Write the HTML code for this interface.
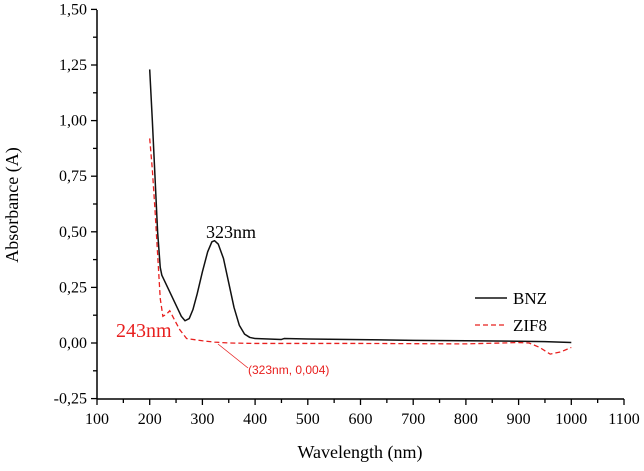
<!DOCTYPE html>
<html><head><meta charset="utf-8"><style>
body{margin:0;background:#fff}
</style></head><body>
<svg id="c" width="644" height="466"></svg>
<script>
const xTicks=[100,200,300,400,500,600,700,800,900,1000,1100];
const yTicks=[-0.25,0,0.25,0.5,0.75,1.0,1.25,1.5];
const yLabels=["-0,25","0,00","0,25","0,50","0,75","1,00","1,25","1,50"];
const bnzX=[200,205,210,215,220,223,230,240,250,260,267,275,282,290,300,310,318,323,330,340,350,360,370,380,390,400,450,455,500,600,700,800,900,950,1000];
const bnzY=[1.23,1.0,0.75,0.5,0.34,0.305,0.27,0.22,0.17,0.12,0.10,0.11,0.15,0.22,0.32,0.41,0.455,0.46,0.445,0.38,0.27,0.16,0.08,0.04,0.025,0.02,0.016,0.02,0.018,0.015,0.012,0.01,0.008,0.006,0.002];
const zifX=[200,205,210,215,220,225,232,238,248,257,270,300,323,350,400,500,600,700,800,900,920,940,960,980,1000];
const zifY=[0.92,0.78,0.6,0.4,0.2,0.12,0.13,0.145,0.1,0.06,0.02,0.01,0.004,0.0,-0.002,-0.002,-0.002,-0.003,-0.004,0.002,0.0,-0.02,-0.05,-0.04,-0.02];
const X=v=>97+(v-100)*0.527, Y=v=>343-v*222.4;
const s=document.getElementById('c'),NS='http://www.w3.org/2000/svg';
function el(t,a,txt){const e=document.createElementNS(NS,t);for(const k in a)e.setAttribute(k,a[k]);if(txt!=null)e.textContent=txt;s.appendChild(e);return e;}
const SERIF='font-family:"Liberation Serif",serif';
let e;
e=el('line',{x1:97,y1:399,x2:624,y2:399,stroke:'#000','stroke-width':1.5});


e=el('line',{x1:97,y1:10,x2:97,y2:399,stroke:'#000','stroke-width':1.5});


xTicks.forEach((v,i)=>{
 el('line',{x1:X(v),y1:399,x2:X(v),y2:405,stroke:'#000','stroke-width':1.3});
 if(i<xTicks.length-1)el('line',{x1:X(v+50),y1:399,x2:X(v+50),y2:403,stroke:'#000','stroke-width':1.3});
 e=el('text',{x:X(v),y:424,'text-anchor':'middle',style:SERIF+';font-size:16px'},String(v));
 
 
});
yTicks.forEach((v,i)=>{
 el('line',{x1:91,y1:Y(v),x2:97,y2:Y(v),stroke:'#000','stroke-width':1.3});
 if(i<yTicks.length-1)el('line',{x1:93,y1:Y(v+0.125),x2:97,y2:Y(v+0.125),stroke:'#000','stroke-width':1.3});
 e=el('text',{x:87,y:Y(v)+5,'text-anchor':'end',style:SERIF+';font-size:16px'},yLabels[i]);
 
 
});
e=el('text',{x:360,y:458,'text-anchor':'middle',style:SERIF+';font-size:18px'},'Wavelength (nm)');


e=el('text',{x:0,y:0,'text-anchor':'middle',style:SERIF+';font-size:18px',transform:'translate(18,205) rotate(-90)'},'Absorbance (A)');


e=el('polyline',{points:zifX.map((x,i)=>X(x)+','+Y(zifY[i])).join(' '),fill:'none',stroke:'#e8201f','stroke-width':1.3,'stroke-dasharray':'5,3'});


e=el('polyline',{points:bnzX.map((x,i)=>X(x)+','+Y(bnzY[i])).join(' '),fill:'none',stroke:'#111','stroke-width':1.5,'stroke-linejoin':'round'});


e=el('text',{x:231,y:238,'text-anchor':'middle',style:SERIF+';font-size:18px'},'323nm');


e=el('text',{x:116,y:337,style:SERIF+';font-size:20px;fill:#e8201f'},'243nm');


el('line',{x1:218,y1:344,x2:248,y2:368,stroke:'#e8201f','stroke-width':0.8});
e=el('text',{x:248,y:374,style:'font-family:"Liberation Sans",sans-serif;font-size:12px;fill:#e8201f'},'(323nm, 0,004)');


el('line',{x1:475,y1:298,x2:507,y2:298,stroke:'#111','stroke-width':1.5});
e=el('text',{x:513,y:304,style:SERIF+';font-size:17px'},'BNZ');


el('line',{x1:475,y1:325,x2:507,y2:325,stroke:'#e8201f','stroke-width':1.3,'stroke-dasharray':'5,3'});
e=el('text',{x:513,y:331,style:SERIF+';font-size:17px'},'ZIF8');


</script>
</body></html>
